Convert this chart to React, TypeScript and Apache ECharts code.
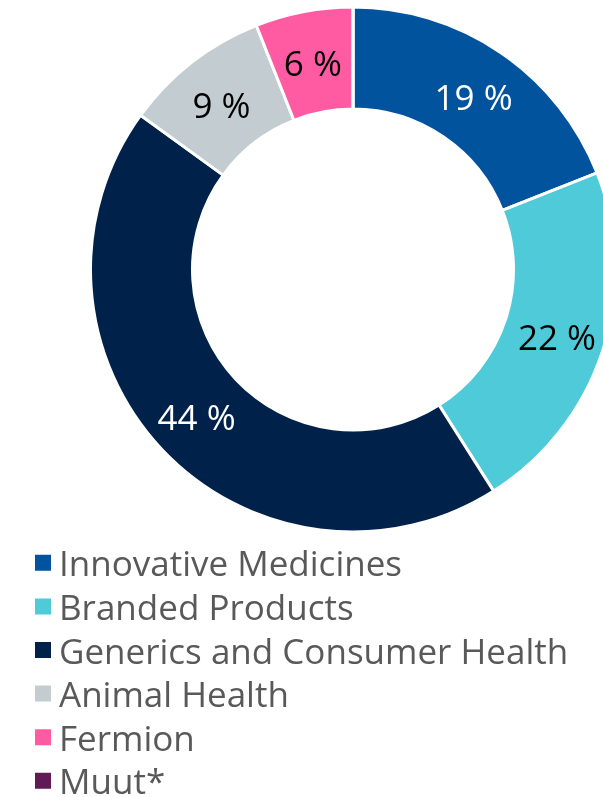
import React, { useEffect, useRef } from "react";
import * as echarts from "echarts";

const categories = [
  "Innovative Medicines",
  "Branded Products",
  "Generics and Consumer Health",
  "Animal Health",
  "Fermion",
  "Muut*",
];
const shares = [19, 22, 44, 9, 6, 0];
const colors = ["#01539D", "#4ECAD9", "#00224A", "#C3CCD1", "#FF5BA3", "#601A55"];
const labelColors = ["#ffffff", "#000000", "#ffffff", "#000000", "#000000", "#000000"];
const labelShiftY = [4, 1, 0, 4, 4, 0];

export default function App() {
  const ref = useRef<HTMLDivElement>(null);
  useEffect(() => {
    if (!ref.current) return;
    const chart = echarts.init(ref.current, undefined, { renderer: "svg" });
    chart.setOption({
      animation: false,
      legend: {
        orient: "vertical",
        left: 28,
        top: 539.8,
        height: 300,
        itemWidth: 18,
        itemHeight: 18,
        itemGap: 7.6,
        icon: "rect",
        selectedMode: false,
        textStyle: {
          fontFamily: "Open Sans",
          fontSize: 35,
          color: "#595959",
          lineHeight: 36,
          padding: [0, 0, 0, 2],
        },
        data: categories,
      },
      series: [
        {
          type: "pie",
          center: [353, 269.5],
          radius: [160.5, 262.5],
          startAngle: 90,
          clockwise: true,
          avoidLabelOverlap: false,
          itemStyle: { borderColor: "#ffffff", borderWidth: 3 },
          label: {
            show: true,
            position: "inside",
            fontFamily: "Open Sans",
            fontSize: 35,
            formatter: (p: any) => (p.value > 0 ? `${p.value} %` : ""),
          },
          labelLine: { show: false },
          data: categories.map((name, i) => ({
            name,
            value: shares[i],
            itemStyle: { color: colors[i] },
            label: { color: labelColors[i], offset: [0, labelShiftY[i]] },
          })),
        },
      ],
    });
    return () => chart.dispose();
  }, []);
  return (
    <div
      ref={ref}
      style={{ position: "fixed", left: 0, top: 0, width: 603, height: 797 }}
    />
  );
}
